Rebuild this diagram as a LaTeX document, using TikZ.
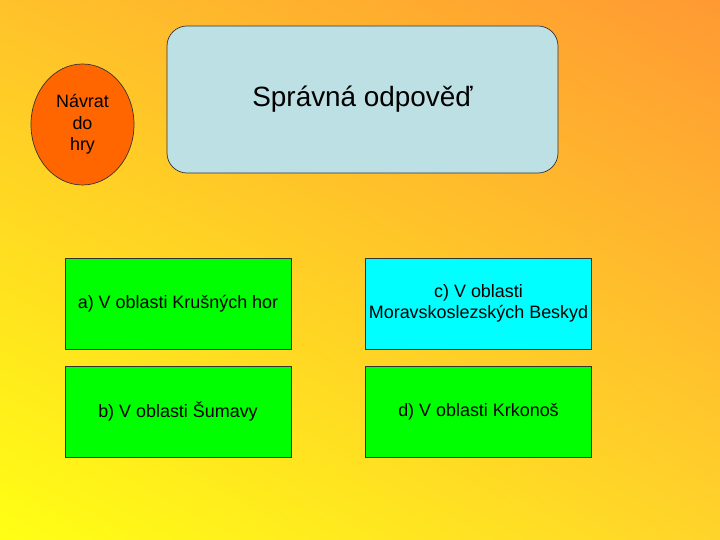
\documentclass[tikz,border=0pt]{standalone}
\usepackage{fontspec}
\setmainfont{Liberation Sans}
\usepackage{tikz}
\usetikzlibrary{shadings,shapes.geometric}
\definecolor{bglow}{HTML}{FFFF14}
\definecolor{bghigh}{HTML}{FF9933}
\definecolor{bgtl}{HTML}{FFC22A}
\definecolor{bgbr}{HTML}{FFD42A}
\definecolor{titlefill}{HTML}{BCE0E4}
\definecolor{backfill}{HTML}{FF6600}
\definecolor{rightfill}{HTML}{00FFFF}
\definecolor{wrongfill}{HTML}{00FF00}

\begin{document}
\begin{tikzpicture}[x=1bp,y=-1bp]
  \tikzset{answer/.style={draw=black!80, line width=0.7bp, rectangle, minimum width=226bp, minimum height=91bp, align=center, inner sep=0pt, font=\fontsize{18}{20.5}\selectfont}}
  \shade[upper left=bgtl, upper right=bghigh, lower left=bglow, lower right=bgbr] (0,0) rectangle (720,540);
  \node[draw=black!80, line width=0.7bp, ellipse, fill=backfill, minimum width=103bp, minimum height=121bp, inner sep=0pt, align=center, font=\fontsize{18}{21.7}\selectfont] (back) at (82.5,124.5) {Návrat\\do\\hry};
  \node[draw=black!80, line width=0.7bp, rectangle, rounded corners=20bp, fill=titlefill, minimum width=391bp, minimum height=147bp, font=\fontsize{28}{32}\selectfont] (title) at (362.5,99.5) {Správná odpověď};
  \node[answer, fill=wrongfill] (a) at (178,303.5) {a) V oblasti Krušných hor};
  \node[answer, fill=rightfill] (c) at (478.5,303.5) {c) V oblasti\\Moravskoslezských Beskyd};
  \node[answer, fill=wrongfill] (b) at (178,411.5) {b) V oblasti Šumavy};
  \node[answer, fill=wrongfill] (d) at (478.5,411.5) {d) V oblasti Krkonoš};
\end{tikzpicture}
\end{document}
